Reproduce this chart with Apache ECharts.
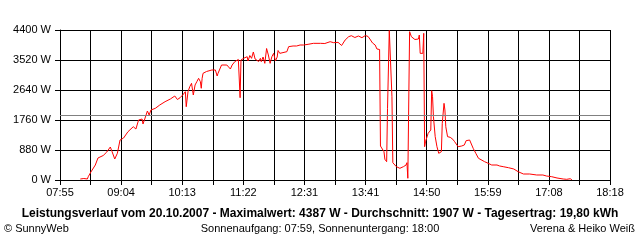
<!DOCTYPE html>
<html>
<head>
<meta charset="utf-8">
<script src="https://cdn.jsdelivr.net/npm/echarts@6/dist/echarts.min.js"></script>
<style>
html,body{margin:0;padding:0;background:#fff;}
#c{width:640px;height:240px;}
</style>
</head>
<body>
<div id="c"></div>
<script>
// ---- data ----
var axisStart = "07:55";
var axisEnd = "18:18";
var yTicks = [0, 880, 1760, 2640, 3520, 4400];
var averageW = 1907;
var titleText = "Leistungsverlauf vom 20.10.2007 - Maximalwert: 4387 W - Durchschnitt: 1907 W - Tagesertrag: 19,80 kWh";
var footLeft = "\u00A9 SunnyWeb";
var footMid = "Sonnenaufgang: 07:59, Sonnenuntergang: 18:00";
var footRight = "Verena & Heiko Wei\u00DF";

var times = [
"08:18","08:22","08:26","08:27","08:30","08:35","08:38","08:44","08:48","08:52",
"08:54","08:57","09:00","09:03","09:07","09:12","09:18","09:20","09:21","09:24",
"09:28","09:29","09:31","09:34","09:36","09:38","09:43","09:48","09:54","10:00",
"10:05","10:08","10:11","10:14","10:15","10:17","10:18","10:20","10:22","10:24",
"10:26","10:28","10:30","10:32","10:34","10:35","10:36","10:37","10:41","10:47",
"10:51","10:53","10:54","10:58","11:04","11:08","11:10","11:13","11:17","11:18",
"11:19","11:20","11:23","11:27","11:28","11:30","11:32","11:34","11:36","11:40",
"11:42","11:43","11:45","11:47","11:49","11:51","11:53","11:55","11:57","11:59",
"12:01","12:02","12:04","12:06","12:12","12:14",
"12:19","12:23","12:27","12:31","12:36","12:38","12:42","12:50","12:55","13:01",
"13:05","13:10","13:14","13:18","13:22","13:25","13:29","13:33","13:37","13:41",
"13:44","13:46","13:49","13:52","13:54","13:57","13:58","14:00","14:02","14:03",
"14:05","14:06","14:08","14:10","14:11","14:12","14:14","14:16","14:20","14:24",
"14:27","14:28","14:29","14:30","14:31","14:33","14:37","14:41","14:42","14:43",
"14:46","14:47","14:48","14:49","14:50","14:52","14:55","14:56","14:57","14:58",
"15:00","15:02","15:04","15:05","15:07","15:08","15:10","15:11","15:12","15:14",
"15:17","15:20","15:22","15:26","15:30","15:33","15:35","15:39","15:41","15:43",
"15:46","15:49","15:51","15:56","16:00","16:04","16:10","16:13","16:17","16:23",
"16:29","16:34","16:40","16:47","16:55","17:02","17:06","17:12","17:18","17:25",
"17:29","17:33","17:35"
];
var watts = [
29,44,29,97,235,440,645,719,821,968,
830,616,783,1173,1232,1417,1563,1613,1496,1760,
1789,1643,1789,2024,1907,2053,2103,2200,2297,2376,
2464,2361,2414,2493,2443,2590,2150,2590,2737,2836,
2493,2787,2884,2983,2884,2690,2983,3129,3183,3227,
3227,3051,3129,3373,3373,3256,3373,3471,3535,2992,
2414,3520,3569,3617,3491,3652,3569,3755,3549,3476,
3569,3471,3608,3422,3857,3667,3422,3617,3715,3491,
3608,3799,3715,3764,3764,3911,
3931,3931,3960,3960,3980,3940,4009,4009,4004,4057,
4028,4038,3945,4107,4204,4233,4180,4224,4175,4239,
4209,4136,4019,3960,3843,3828,997,977,830,607,
537,2103,4387,4341,2443,508,508,391,343,391,
440,508,50,2200,4351,4204,4121,4136,4253,3715,
3715,4302,977,1124,1173,1369,1467,2620,2443,1857,
1271,977,783,763,830,1663,2249,2053,1564,1271,
1252,1193,1124,977,997,1027,1153,1173,1124,930,
783,637,587,537,490,440,440,411,391,361,
323,243,176,176,147,147,117,97,59,29,
20,38,0
];

// ---- helpers ----
function toMin(s){var p=s.split(":");return (+p[0])*60+(+p[1]);}
function pad(n){return (n<10?"0":"")+n;}
var t0 = toMin(axisStart), t1 = toMin(axisEnd);
var nSteps = 18; // grid steps across the time range
function toAxis(s){return (toMin(s)-t0)*nSteps/(t1-t0);}
function axisLabel(v){
  var k = Math.round(v);
  if (k % 2 !== 0) return "";
  var m = Math.floor(t0 + k*(t1-t0)/nSteps + 1e-9);
  return pad(Math.floor(m/60)) + ":" + pad(m%60);
}
var seriesData = times.map(function(t,i){return [toAxis(t), watts[i]];});

var chart = echarts.init(document.getElementById('c'), null, {renderer:'canvas'});
var font = "'Liberation Sans', Arial, sans-serif";
chart.setOption({
  animation:false,
  backgroundColor:'#ffffff',
  textStyle:{fontFamily:font},
  grid:{left:60,right:30,top:30,bottom:60,containLabel:false},
  xAxis:{
    type:'value', min:0, max:nSteps, interval:1,
    axisLine:{show:true,lineStyle:{color:'#000',width:1}},
    axisTick:{show:true,length:5,lineStyle:{color:'#000'}},
    splitLine:{show:true,lineStyle:{color:'#000',width:1}},
    axisLabel:{show:true,formatter:axisLabel,color:'#000',fontSize:11,fontFamily:font,margin:7,showMinLabel:true,showMaxLabel:true,hideOverlap:false}
  },
  yAxis:{
    type:'value', min:yTicks[0], max:yTicks[yTicks.length-1], interval:yTicks[1]-yTicks[0],
    axisLine:{show:true,lineStyle:{color:'#000',width:1}},
    axisTick:{show:true,length:5,lineStyle:{color:'#000'}},
    splitLine:{show:true,lineStyle:{color:'#000',width:1}},
    axisLabel:{formatter:function(v){return v+" W";},color:'#000',fontSize:11,fontFamily:font,margin:9}
  },
  series:[{
    type:'line', data:seriesData, showSymbol:false, symbol:'none',
    lineStyle:{color:'#ff0000',width:1},
    z:3,
    markLine:{silent:true,symbol:'none',label:{show:false},
      lineStyle:{color:'#808080',width:1,type:'solid'},
      data:[{yAxis:averageW}]}
  }],
  title:[
    {text:titleText,left:'center',top:208,textStyle:{fontSize:12,fontWeight:'bold',color:'#000',fontFamily:font},padding:0},
    {text:footLeft,left:4,top:223,textStyle:{fontSize:11,fontWeight:'normal',color:'#000',fontFamily:font},padding:0},
    {text:footMid,left:'center',top:223,textStyle:{fontSize:11,fontWeight:'normal',color:'#000',fontFamily:font},padding:0},
    {text:footRight,right:5,top:223,textStyle:{fontSize:11,fontWeight:'normal',color:'#000',fontFamily:font},padding:0}
  ]
});
</script>
</body>
</html>
